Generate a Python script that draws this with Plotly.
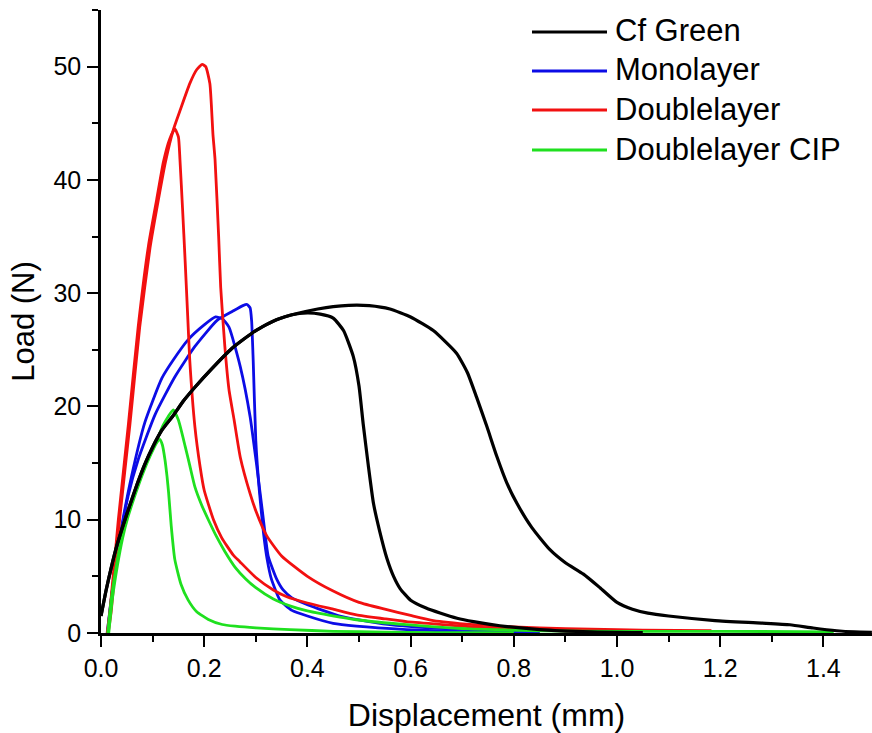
import plotly.graph_objects as go

# ---- Load-displacement data (two specimens per material) ----
series_names = ["Cf Green", "Monolayer", "Doublelayer", "Doublelayer CIP"]
series_colors = ["#000000", "#0c0ce6", "#f21010", "#1fe01f"]

# Cf Green
cf1_x = [0.0, 0.01, 0.02, 0.03, 0.04, 0.053, 0.065, 0.085, 0.10, 0.118, 0.14, 0.16, 0.182, 0.214,
         0.253, 0.30, 0.34, 0.38, 0.42, 0.45, 0.48, 0.52, 0.56, 0.60, 0.644, 0.689, 0.71, 0.728,
         0.748, 0.767, 0.786, 0.806, 0.835, 0.87, 0.90, 0.935, 0.967, 1.0, 1.03, 1.06, 1.10, 1.19,
         1.28, 1.335, 1.38, 1.426, 1.46, 1.494]
cf1_y = [1.5, 3.8, 5.8, 7.6, 9.1, 10.9, 12.5, 14.9, 16.4, 17.9, 19.2, 20.5, 21.7, 23.3,
         25.1, 26.7, 27.65, 28.2, 28.6, 28.82, 28.93, 28.9, 28.6, 27.9, 26.7, 24.7, 23.0, 20.8,
         18.2, 15.6, 13.3, 11.45, 9.3, 7.35, 6.2, 5.2, 4.0, 2.7, 2.1, 1.75, 1.5, 1.1,
         0.88, 0.73, 0.44, 0.2, 0.1, 0.06]
cf2_x = [0.0, 0.01, 0.02, 0.03, 0.04, 0.053, 0.065, 0.085, 0.10, 0.118, 0.14, 0.16, 0.182, 0.214,
         0.253, 0.30, 0.34, 0.37, 0.40, 0.425, 0.45, 0.47, 0.489, 0.50, 0.508, 0.518, 0.528, 0.54,
         0.554, 0.567, 0.58, 0.60, 0.63, 0.657, 0.69, 0.722, 0.773, 0.85, 0.95, 1.05]
cf2_y = [1.5, 3.8, 5.8, 7.6, 9.1, 10.9, 12.5, 14.9, 16.4, 17.9, 19.2, 20.5, 21.7, 23.3,
         25.1, 26.7, 27.65, 28.1, 28.25, 28.15, 27.8, 26.7, 24.4, 21.8, 18.5, 14.8, 11.45, 9.0,
         6.6, 5.0, 3.9, 2.9, 2.2, 1.76, 1.3, 1.0, 0.64, 0.3, 0.1, 0.03]

# Monolayer
mono1_x = [0.012, 0.021, 0.03, 0.04, 0.059, 0.085, 0.118, 0.14, 0.169, 0.20, 0.222, 0.235, 0.248,
           0.27, 0.289, 0.302, 0.314, 0.324, 0.34, 0.353, 0.37, 0.40, 0.43, 0.463, 0.50, 0.56,
           0.62, 0.689, 0.76, 0.85]
mono1_y = [0.0, 3.5, 6.6, 9.4, 13.8, 18.6, 22.5, 24.1, 25.9, 27.2, 27.9, 27.75, 27.0,
           23.5, 19.1, 14.7, 10.3, 6.8, 4.8, 3.8, 3.1, 2.5, 2.0, 1.5, 1.15, 0.73,
           0.5, 0.35, 0.2, 0.1]
mono2_x = [0.013, 0.021, 0.035, 0.053, 0.072, 0.105, 0.143, 0.182, 0.225, 0.255, 0.275, 0.283,
           0.289, 0.292, 0.295, 0.300, 0.307, 0.315, 0.322, 0.33, 0.347, 0.37, 0.40, 0.45, 0.495,
           0.592, 0.70, 0.85]
mono2_y = [0.0, 3.4, 7.8, 12.2, 15.3, 19.3, 22.6, 25.3, 27.6, 28.4, 28.9, 29.0,
           28.7, 27.5, 24.0, 17.0, 12.5, 8.8, 6.5, 4.8, 2.9, 2.0, 1.5, 0.85, 0.6,
           0.3, 0.12, 0.03]

# Doublelayer
dbl1_x = [0.012, 0.0174, 0.0336, 0.053, 0.072, 0.092, 0.108, 0.121, 0.133, 0.143, 0.150, 0.153,
          0.158, 0.163, 0.168, 0.172, 0.182, 0.192, 0.20, 0.218, 0.234, 0.256, 0.269, 0.30, 0.334,
          0.36, 0.40, 0.45, 0.495, 0.55, 0.592, 0.65, 0.722, 0.80, 0.90, 1.0]
dbl1_y = [0.0, 2.0, 10.0, 18.4, 27.0, 34.2, 38.3, 41.6, 43.6, 44.5, 43.8, 41.8,
          37.5, 32.9, 28.0, 24.1, 18.2, 14.7, 12.6, 10.0, 8.4, 6.9, 6.3, 4.9, 3.8,
          3.2, 2.65, 2.1, 1.6, 1.25, 1.0, 0.78, 0.53, 0.35, 0.18, 0.08]
dbl2_x = [0.014, 0.02, 0.036, 0.056, 0.075, 0.095, 0.111, 0.125, 0.14, 0.153, 0.172, 0.185, 0.196,
          0.203, 0.211, 0.217, 0.221, 0.228, 0.232, 0.24, 0.248, 0.258, 0.27, 0.289, 0.30, 0.321,
          0.35, 0.40, 0.45, 0.50, 0.55, 0.60, 0.644, 0.722, 0.773, 0.85, 0.95, 1.05, 1.183]
dbl2_y = [0.0, 2.0, 10.0, 18.4, 27.0, 34.0, 38.2, 41.6, 44.4, 46.1, 48.5, 49.7, 50.2,
          50.0, 48.5, 44.0, 41.8, 35.0, 30.5, 25.3, 21.5, 18.8, 15.5, 12.3, 10.8, 8.6,
          6.8, 5.0, 3.7, 2.7, 2.1, 1.55, 1.1, 0.73, 0.58, 0.45, 0.33, 0.25, 0.2]

# Doublelayer CIP
cip1_x = [0.013, 0.02, 0.03, 0.04, 0.05, 0.065, 0.08, 0.095, 0.108, 0.12, 0.13, 0.14, 0.15, 0.163,
          0.172, 0.182, 0.195, 0.208, 0.224, 0.24, 0.26, 0.28, 0.30, 0.334, 0.366, 0.40, 0.463,
          0.495, 0.592, 0.676, 0.722, 0.85, 1.0, 1.2, 1.42]
cip1_y = [0.0, 3.0, 6.0, 8.4, 10.2, 12.3, 14.2, 15.8, 17.0, 18.3, 19.1, 19.7, 18.8, 16.5,
          14.8, 12.9, 11.3, 10.0, 8.5, 7.2, 5.8, 4.8, 4.0, 3.0, 2.4, 1.95, 1.4,
          1.17, 0.73, 0.45, 0.35, 0.2, 0.15, 0.15, 0.1]
cip2_x = [0.015, 0.022, 0.032, 0.042, 0.052, 0.067, 0.082, 0.097, 0.108, 0.114, 0.119, 0.124, 0.128,
          0.131, 0.136, 0.143, 0.155, 0.169, 0.185, 0.208, 0.235, 0.26, 0.30, 0.366, 0.45, 0.55,
          0.65, 0.80]
cip2_y = [0.0, 3.0, 6.0, 8.4, 10.2, 12.3, 14.2, 15.8, 16.8, 17.1, 16.6, 15.3, 13.8,
          12.4, 9.5, 6.5, 4.3, 2.9, 1.9, 1.2, 0.75, 0.6, 0.45, 0.3, 0.15, 0.08,
          0.04, 0.02]

# drawing order: colored specimens first, Cf Green on top
curves = [
    (mono1_x, mono1_y, 1), (mono2_x, mono2_y, 1),
    (dbl1_x, dbl1_y, 2), (dbl2_x, dbl2_y, 2),
    (cip1_x, cip1_y, 3), (cip2_x, cip2_y, 3),
    (cf1_x, cf1_y, 0), (cf2_x, cf2_y, 0),
]

x_ticks = [0.0, 0.2, 0.4, 0.6, 0.8, 1.0, 1.2, 1.4]
x_tick_text = ["0.0", "0.2", "0.4", "0.6", "0.8", "1.0", "1.2", "1.4"]
y_ticks = [0, 10, 20, 30, 40, 50]

FONT = "Arial, Liberation Sans, Helvetica, sans-serif"
W, H = 872, 733
ML, MR, MT, MB = 101, 0, 10, 100

fig = go.Figure()
for xs, ys, k in curves:
    fig.add_trace(go.Scatter(
        x=xs, y=ys, mode="lines",
        line=dict(color=series_colors[k], width=3.2 if k == 0 else 2.8,
                  shape="spline", smoothing=0.5),
        name=series_names[k], showlegend=False, hoverinfo="skip",
    ))

axis_common = dict(
    showgrid=False, zeroline=False, showline=True, linecolor="black", linewidth=2.6,
    ticks="outside", ticklen=11, tickwidth=2.4, tickcolor="black",
    tickfont=dict(family=FONT, size=25, color="black"),
    mirror=False,
)

fig.update_xaxes(
    range=[0, (W - ML - MR) / 516.0], tickvals=x_ticks, ticktext=x_tick_text,
    minor=dict(ticks="outside", dtick=0.1, ticklen=6, tickwidth=2.2, tickcolor="black"),
    title=dict(text="Displacement (mm)", font=dict(family=FONT, size=32, color="black"), standoff=25),
    **axis_common,
)
fig.update_yaxes(
    range=[0, 55], tickvals=y_ticks,
    minor=dict(ticks="outside", dtick=5, ticklen=6, tickwidth=2.2, tickcolor="black"),
    title=dict(text="Load (N)", font=dict(family=FONT, size=31, color="black"), standoff=10),
    ticklabelstandoff=1,
    **axis_common,
)

# Legend drawn as line samples with text labels
plot_w = W - ML - MR
plot_h = H - MT - MB


def px_to_paper(px, py):
    return (px - ML) / plot_w, (H - MB - py) / plot_h


legend_rows = [32, 71, 110, 150]
for i, name in enumerate(series_names):
    x0, y0 = px_to_paper(532, legend_rows[i])
    x1, _ = px_to_paper(607, legend_rows[i])
    fig.add_shape(type="line", xref="paper", yref="paper", x0=x0, x1=x1, y0=y0, y1=y0,
                  line=dict(color=series_colors[i], width=2.8))
    tx, ty = px_to_paper(613, legend_rows[i] - 1)
    fig.add_annotation(x=tx, y=ty, xref="paper", yref="paper", text=name, showarrow=False,
                       xanchor="left", yanchor="middle",
                       font=dict(family=FONT, size=31, color="black"))

fig.update_layout(
    width=W, height=H,
    margin=dict(l=ML, r=MR, t=MT, b=MB),
    paper_bgcolor="white", plot_bgcolor="white",
    showlegend=False,
)

fig.write_html("out.html")
